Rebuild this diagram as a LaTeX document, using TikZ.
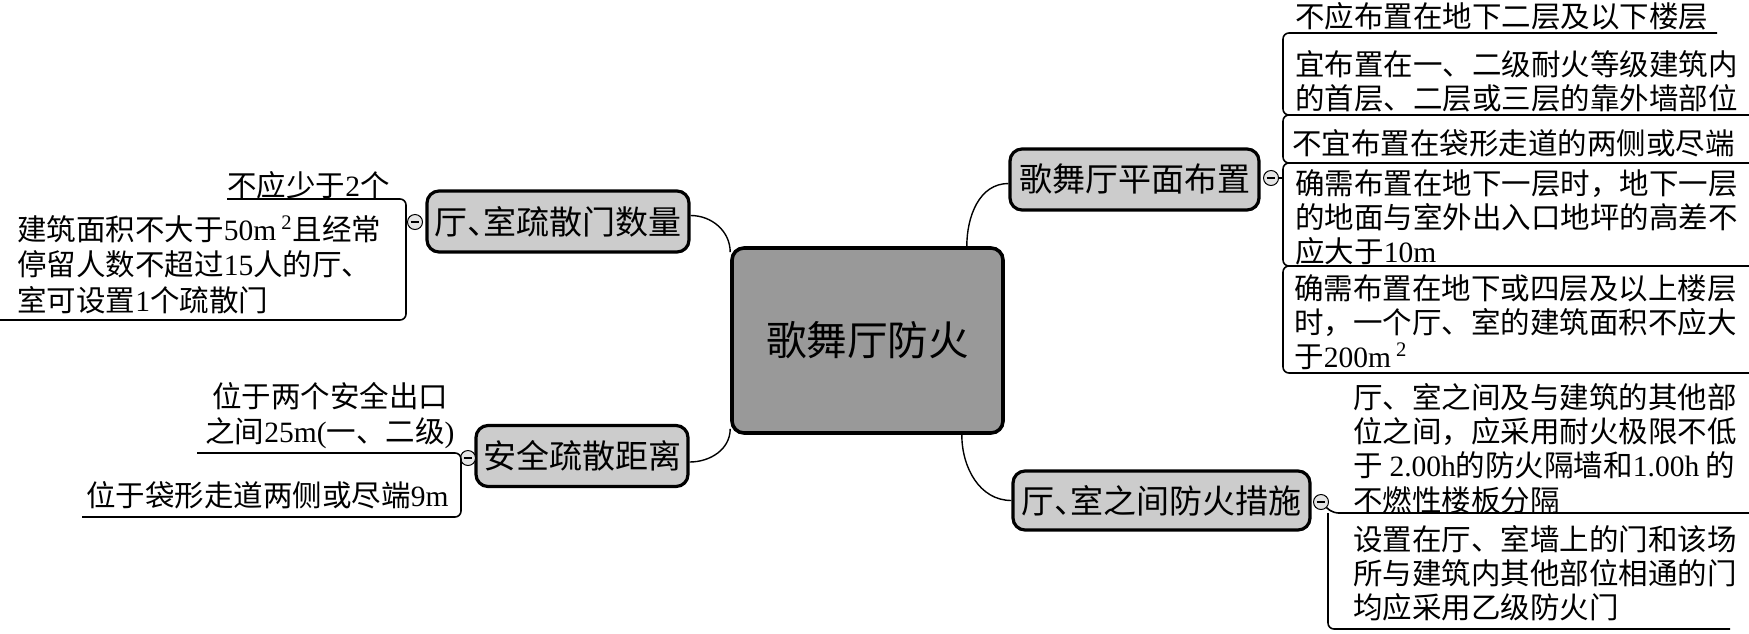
\documentclass[tikz,border=0pt]{standalone}
\usepackage{fontspec}
\setmainfont{Noto Sans CJK SC}
\newfontfamily\lat{Liberation Serif}
\newcommand\ltn[1]{{\lat #1}}
\newcommand\hw{\makebox[0.5em][l]{、}}
\definecolor{topicgray}{gray}{0.8}
\definecolor{rootgray}{gray}{0.6}
\begin{document}
\begin{tikzpicture}[x=0.5pt,y=-0.5pt,
  topic/.style={draw=black, line width=1.6pt, rounded corners=6pt, fill=topicgray, inner sep=0pt, minimum height=30.5pt, font=\fontsize{16.5pt}{18pt}\selectfont},
  rootbox/.style={draw=black, line width=1.8pt, rounded corners=6pt, fill=rootgray, inner sep=0pt, minimum width=135.5pt, minimum height=92.5pt, font=\fontsize{20.3pt}{22pt}\selectfont},
  leaf/.style={inner sep=0pt, anchor=base west, font=\fontsize{14.75pt}{15.75pt}\selectfont},
  leafL/.style={inner sep=0pt, anchor=base west, font=\fontsize{14.75pt}{17.5pt}\selectfont},
  toggle/.style={circle, draw=black, line width=0.5pt, fill=gray!20, minimum size=7.5pt, inner sep=0pt,
    path picture={\draw[line width=0.6pt] ([xshift=-2.2pt]path picture bounding box.center) -- ([xshift=2.2pt]path picture bounding box.center);}},
  link/.style={line width=0.7pt},
  rail/.style={line width=0.8pt, rounded corners=3pt}
]
\useasboundingbox (0,0) rectangle (1749,633);
\fill[white] (0,0) rectangle (1749,633);

% main topics
\node[rootbox] (root) at (867.5,340.5) {歌舞厅防火};
\node[topic, minimum width=131pt] (A) at (558,221.5) {厅\hw 室疏散门数量};
\node[topic, minimum width=106pt] (B) at (582,456) {安全疏散距离};
\node[topic, minimum width=124.5pt] (C) at (1134.5,179.5) {歌舞厅平面布置};
\node[topic, minimum width=148.5pt, minimum height=29.5pt] (D) at (1161.5,500.5) {厅\hw 室之间防火措施};

% toggles
\node[toggle] (tA) at (415,222) {};
\node[toggle] (tB) at (468,458) {};
\node[toggle] (tC) at (1271,178) {};
\node[toggle] (tD) at (1321,502) {};

% connectors to root
\draw[link] ([yshift=3pt]A.east) to[out=0,in=90] ([yshift=-3pt]root.north west);
\draw[link] ([yshift=-3pt]B.east) to[out=0,in=-90] ([yshift=3pt]root.south west);
\draw[link] ([yshift=-2pt]C.west) to[out=180,in=90] ([xshift=-19pt]root.north east);
\draw[link] (D.west) to[out=180,in=-90] ([xshift=-21.5pt]root.south east);

% left leaves
\node[leafL] (a1) at (227,196) {不应少于\ltn{2}个};
\node[leafL] (a2) at (17,240) {\begin{tabular}[t]{@{}l@{}}建筑面积不大于\ltn{50m\,\textsuperscript{2}}且经常\\停留人数不超过\ltn{15}人的厅、\\室可设置\ltn{1}个疏散门\end{tabular}};
\node[leafL, anchor=base] (b1) at (330,407) {\begin{tabular}[t]{@{}c@{}}位于两个安全出口\\之间\ltn{25m(}一、二级\ltn{)}\end{tabular}};
\node[leafL] (b2) at (86,506) {位于袋形走道两侧或尽端\ltn{9m}};

% right leaves
\node[leaf] (c1) at (1295,27) {不应布置在地下二层及以下楼层};
\node[leaf] (c2) at (1295,75) {\begin{tabular}[t]{@{}l@{}}宜布置在一、二级耐火等级建筑内\\的首层、二层或三层的靠外墙部位\end{tabular}};
\node[leaf] (c3) at (1292,154) {不宜布置在袋形走道的两侧或尽端};
\node[leaf] (c4) at (1295,194) {\begin{tabular}[t]{@{}l@{}}确需布置在地下一层时，地下一层\\的地面与室外出入口地坪的高差不\\应大于\ltn{10m}\end{tabular}};
\node[leaf] (c5) at (1294,299) {\begin{tabular}[t]{@{}l@{}}确需布置在地下或四层及以上楼层\\时，一个厅、室的建筑面积不应大\\于\ltn{200m\,\textsuperscript{2}}\end{tabular}};
\node[leaf] (d1) at (1353,408) {\begin{tabular}[t]{@{}l@{}}厅、室之间及与建筑的其他部\\位之间，应采用耐火极限不低\\于 \ltn{2.00h}的防火隔墙和\ltn{1.00h} 的\\不燃性楼板分隔\end{tabular}};
\node[leaf] (d2) at (1353,550) {\begin{tabular}[t]{@{}l@{}}设置在厅、室墙上的门和该场\\所与建筑内其他部位相通的门\\均应采用乙级防火门\end{tabular}};

% rails
\draw[rail] (227,199) -- (406,199) -- (406,320) -- (0,320);
\draw[rail] (197,453) -- (461,453) -- (461,517) -- (82,517);
\draw[rail] (1717,33) -- (1283,33) -- (1283,115) -- (1749,115);
\draw[rail] (1749,115) -- (1283,115) -- (1283,163) -- (1749,163);
\draw[rail] (1749,163) -- (1283,163) -- (1283,266) -- (1749,266);
\draw[rail] (1749,266) -- (1283,266) -- (1283,373) -- (1749,373);
\draw[rail] (tC.east) -- (1283,178);
\draw[rail] (tD.south east) to[out=-45,in=180] (1345,513) -- (1749,513);
\draw[rail] (1328,513) -- (1328,629) -- (1730,629);
\end{tikzpicture}
\end{document}
